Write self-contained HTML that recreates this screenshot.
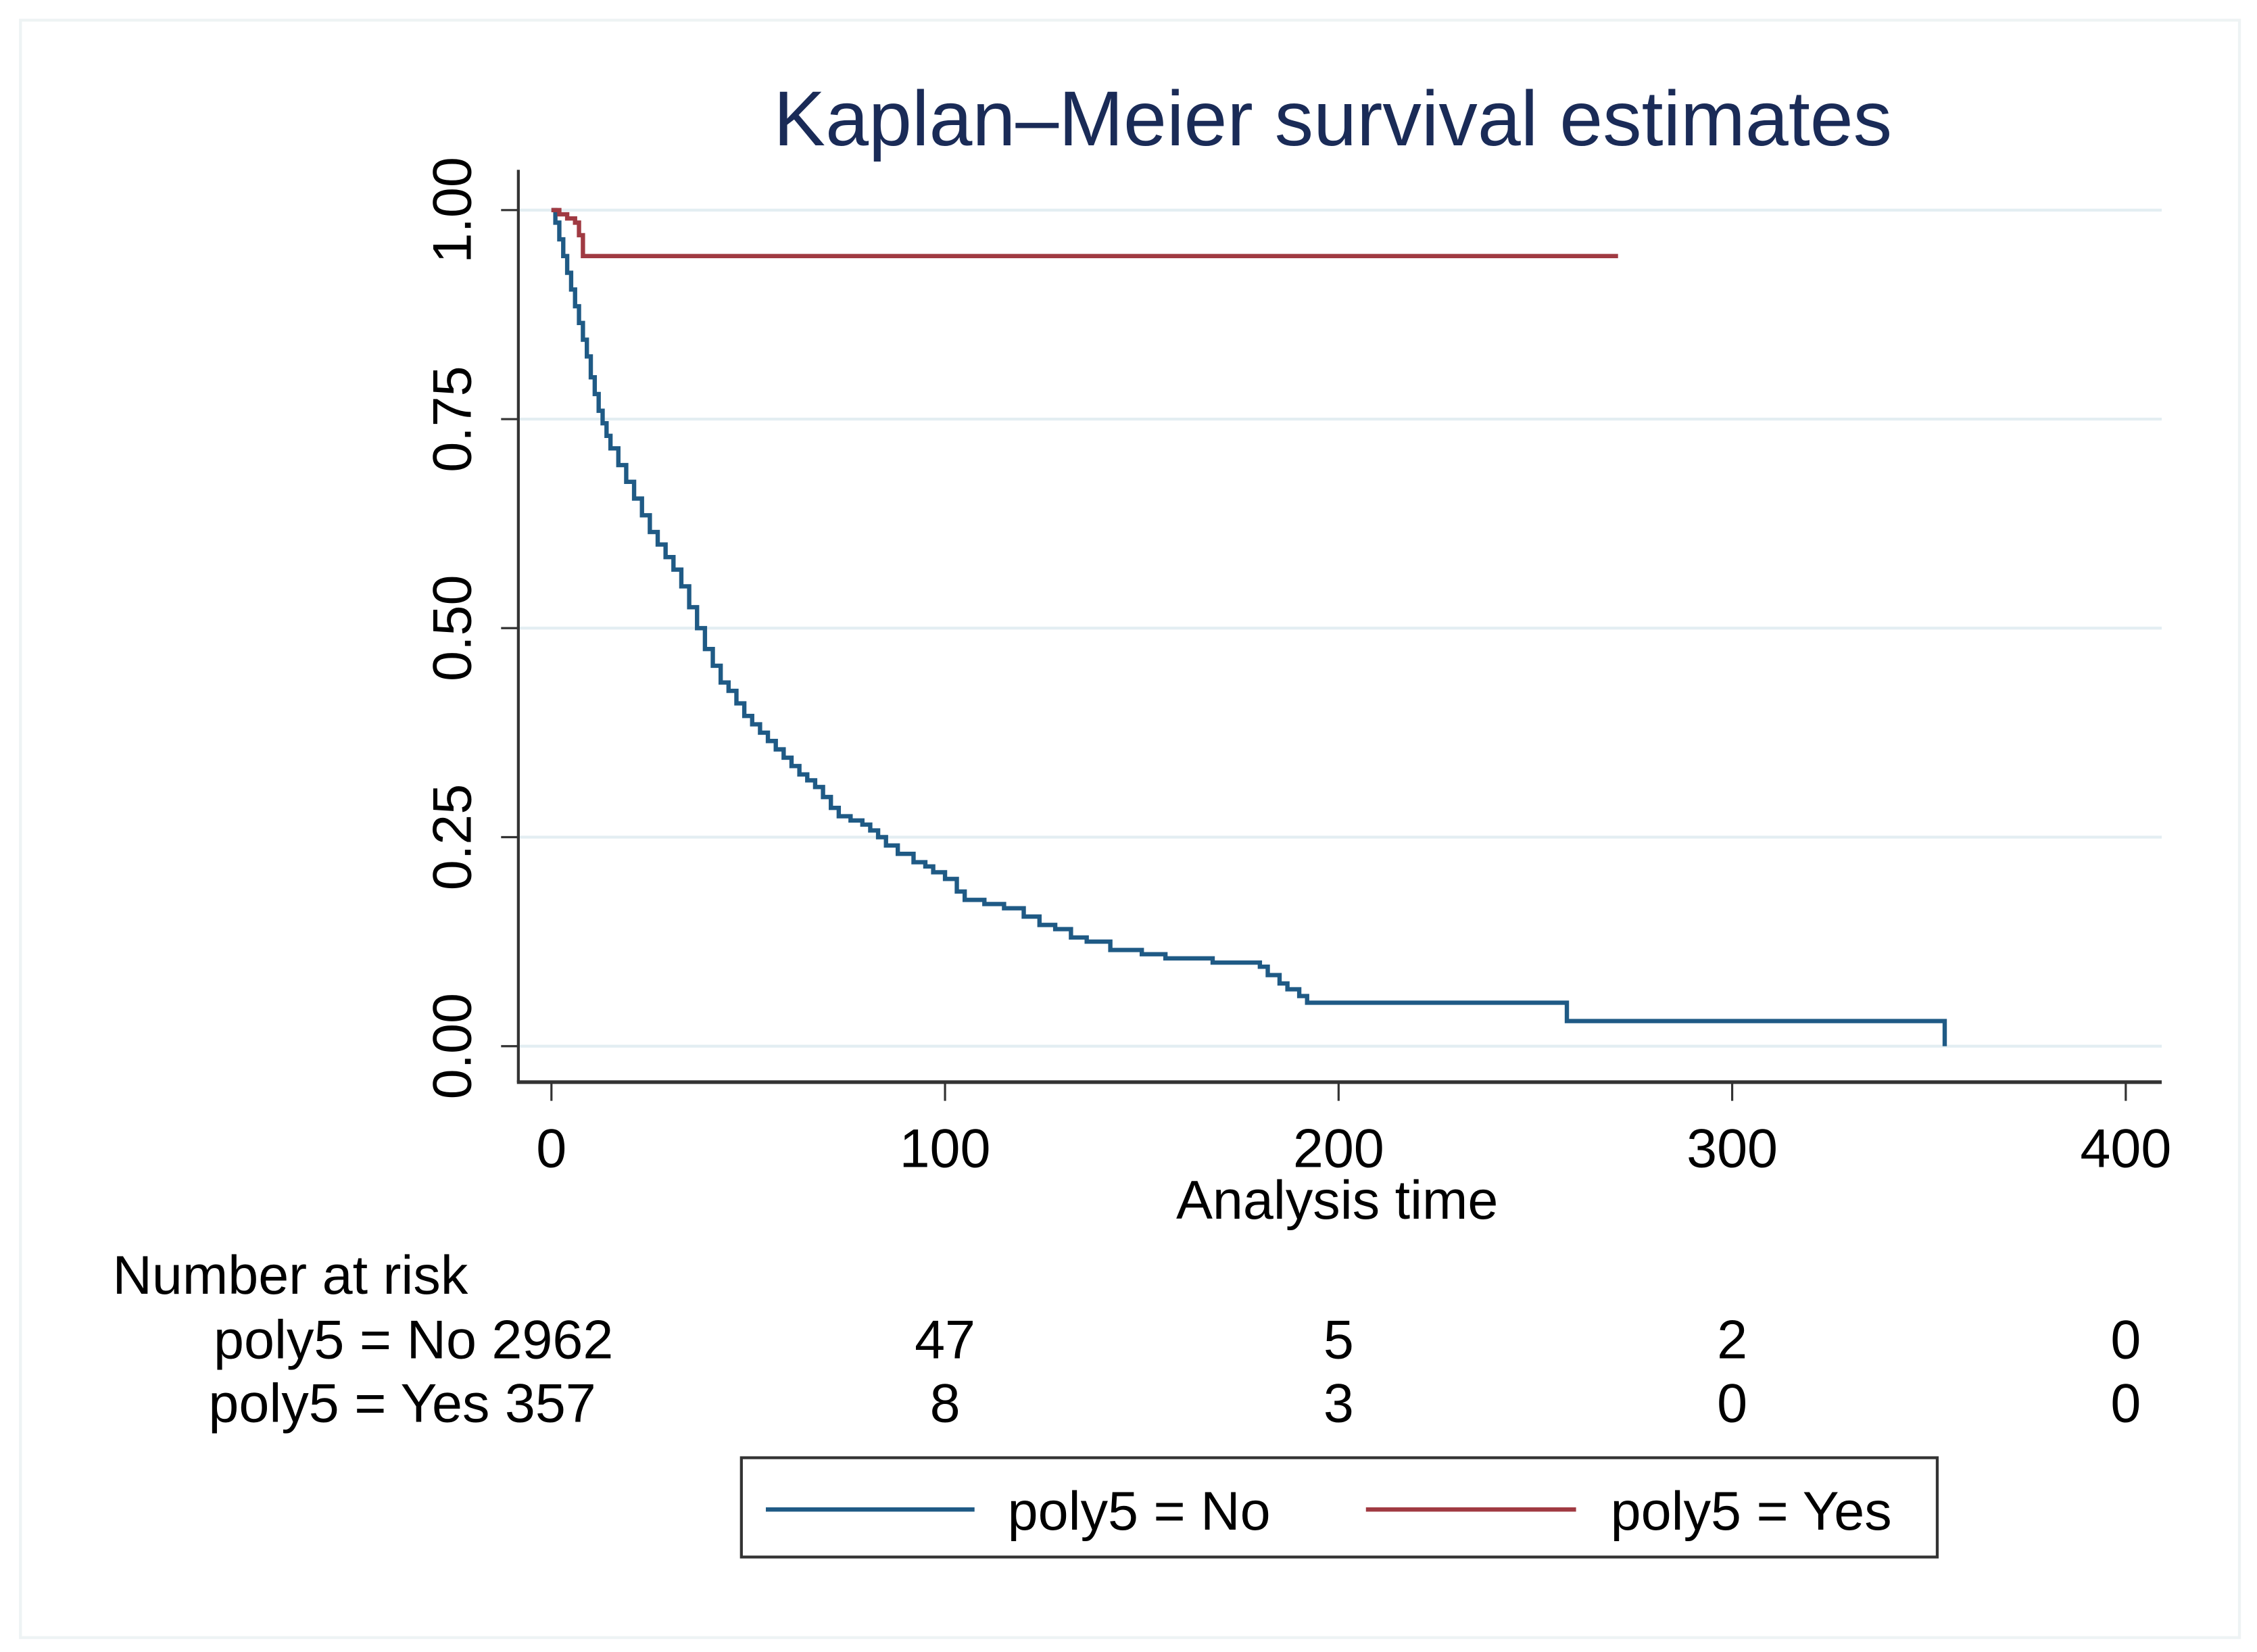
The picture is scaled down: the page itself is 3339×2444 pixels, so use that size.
<!DOCTYPE html>
<html><head><meta charset="utf-8"><style>
html,body{margin:0;padding:0;background:#fff}
svg{display:block}
text{font-family:"Liberation Sans",Arial,sans-serif}
</style></head><body>
<svg id="chart" width="3339" height="2444" viewBox="0 0 1568 1148" xmlns="http://www.w3.org/2000/svg">
<rect x="0" y="0" width="1568" height="1148" fill="#fff"/>
<rect x="14" y="14" width="1542" height="1124" fill="#fff" stroke="#eef3f4" stroke-width="2"/>
<text x="926" y="101" font-size="54" fill="#1a2b57" text-anchor="middle">Kaplan–Meier survival estimates</text>
<g id="grid"></g>
<g id="axes"></g>
<g id="series"></g>
<text x="929" y="847" font-size="38" text-anchor="middle">Analysis time</text>
<text x="78" y="899" font-size="38">Number at risk</text>
<g id="risk"></g>
<rect x="515" y="1013" width="831" height="69" fill="#fff" stroke="#333" stroke-width="2"/>
<line x1="532" y1="1049" x2="677" y2="1049" stroke="#1f5a85" stroke-width="3"/>
<text x="700" y="1063" font-size="38">poly5 = No</text>
<line x1="949" y1="1049" x2="1095" y2="1049" stroke="#a03a42" stroke-width="3"/>
<text x="1119" y="1063" font-size="38">poly5 = Yes</text>
</svg>
<script>
const xTicks=[0,100,200,300,400];
const yTicks=[0,0.25,0.5,0.75,1];
const yLabels=["0.00","0.25","0.50","0.75","1.00"];
const noTimes=[0,1,2,3,4,5,6,7,8,9,10,11,12,13,14,15,17,19,21,23,25,27,29,31,33,35,37,39,41,43,45,47,49,51,53,55,57,59,61,63,65,67,69,71,73,76,79,81,83,85,88,92,95,97,100,103,105,110,115,120,124,128,132,136,142,150,156,168,180,182,185,187,190,192,258,354];
const noSurv=[1,0.985,0.965,0.945,0.925,0.905,0.885,0.865,0.845,0.825,0.8,0.78,0.76,0.745,0.73,0.715,0.695,0.675,0.655,0.635,0.615,0.6,0.585,0.57,0.55,0.525,0.5,0.475,0.455,0.435,0.425,0.41,0.395,0.385,0.375,0.365,0.355,0.345,0.335,0.325,0.318,0.31,0.298,0.285,0.275,0.27,0.265,0.258,0.25,0.24,0.23,0.22,0.215,0.208,0.2,0.185,0.175,0.17,0.165,0.155,0.145,0.14,0.13,0.125,0.115,0.11,0.105,0.1,0.095,0.085,0.075,0.068,0.06,0.052,0.03,0];
const yesTimes=[0,2,4,6,7,8,271];
const yesSurv=[1,0.995,0.99,0.985,0.97,0.945,0.945];
const riskGroups=["poly5 = No","poly5 = Yes"];
const riskNo=[2962,47,5,2,0];
const riskYes=[357,8,3,0,0];
const NS="http://www.w3.org/2000/svg";
const X=t=>383+t*(1477-383)/400;
const Y=s=>727-s*(727-146);
function mk(tag,attrs,parent){const e=document.createElementNS(NS,tag);for(const k in attrs)e.setAttribute(k,attrs[k]);parent.appendChild(e);return e;}
const grid=document.getElementById('grid'),axes=document.getElementById('axes'),series=document.getElementById('series'),risk=document.getElementById('risk');
yTicks.forEach((v,i)=>{
 const g=mk('line',{x1:360,x2:1502,y1:Y(v),y2:Y(v),stroke:'#e3eef2','stroke-width':2},grid);
 
 
 const t=mk('line',{x1:348,x2:360,y1:Y(v),y2:Y(v),stroke:'#333','stroke-width':1.5},axes);
 
 
 const l=mk('text',{x:0,y:0,'font-size':38,'text-anchor':'middle',transform:`translate(327,${Y(v)}) rotate(-90)`},axes);
 l.textContent=yLabels[i];
 
 
});
const ya=mk('line',{x1:360,x2:360,y1:118,y2:752,stroke:'#333','stroke-width':2},axes);


const xa=mk('line',{x1:359,x2:1502,y1:752,y2:752,stroke:'#333','stroke-width':2.5},axes);


xTicks.forEach((v,i)=>{
 const t=mk('line',{x1:X(v),x2:X(v),y1:752,y2:765,stroke:'#333','stroke-width':1.5},axes);
 
 
 const l=mk('text',{x:X(v),y:811,'font-size':38,'text-anchor':'middle'},axes);
 l.textContent=v;
 
 
 if(i>0){
 [riskNo,riskYes].forEach((arr,r)=>{
  const n=mk('text',{x:X(v),y:r==0?944:988,'font-size':38,'text-anchor':'middle'},risk);
  n.textContent=arr[i];
  
  
 });
 }
});
[[riskGroups[0]+' '+riskNo[0],426,944],[riskGroups[1]+' '+riskYes[0],414,988]].forEach(([s,x,y])=>{
 const n=mk('text',{x:x,y:y,'font-size':38,'text-anchor':'end'},risk);
 n.textContent=s;
 
 
});
function stepPath(ts,ss){let d=`M${X(ts[0])},${Y(ss[0])}`;for(let i=1;i<ts.length;i++){d+=` H${X(ts[i])} V${Y(ss[i])}`;}return d;}
const pn=mk('path',{d:stepPath(noTimes,noSurv),fill:'none',stroke:'#1f5a85','stroke-width':3},series);


const py=mk('path',{d:stepPath(yesTimes,yesSurv),fill:'none',stroke:'#a03a42','stroke-width':3},series);


</script>
</body></html>
